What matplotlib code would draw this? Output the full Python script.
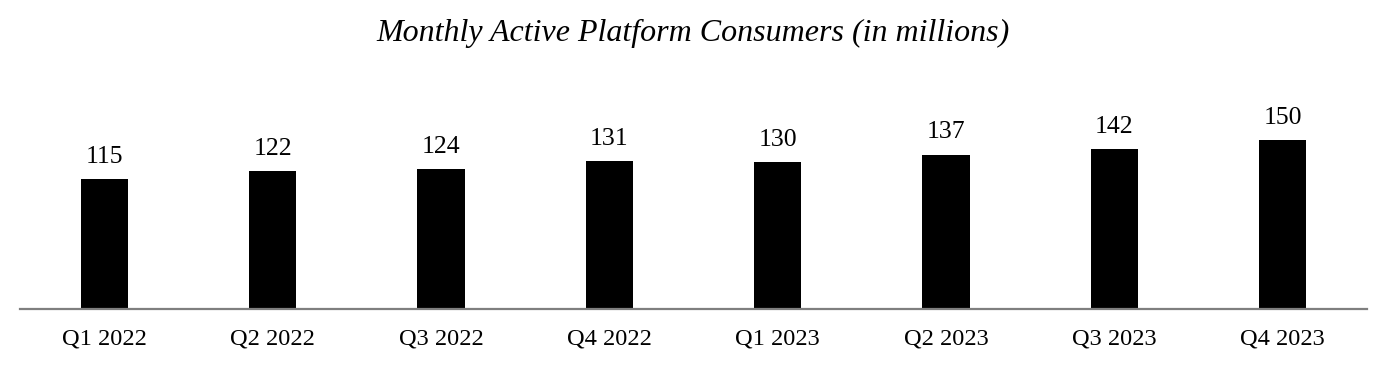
import matplotlib.pyplot as plt

# Data
quarters = ['Q1 2022', 'Q2 2022', 'Q3 2022', 'Q4 2022',
            'Q1 2023', 'Q2 2023', 'Q3 2023', 'Q4 2023']
consumers = [115, 122, 124, 131, 130, 137, 142, 150]

plt.rcParams['font.family'] = ['Liberation Serif', 'DejaVu Serif']

fig = plt.figure(figsize=(13.86, 3.72), dpi=100)
ax = fig.add_axes([20 / 1386, 63 / 372, 1347 / 1386, 209 / 372])

x = range(len(quarters))
bars = ax.bar(x, consumers, width=0.28, color='black')

for rect, v in zip(bars, consumers):
    ax.annotate(str(v), (rect.get_x() + rect.get_width() / 2, v),
                xytext=(0, 8), textcoords='offset points',
                ha='center', va='bottom', fontsize=18.5)

ax.set_xlim(-0.5, len(quarters) - 0.5)
ax.set_ylim(0, 185.4)
ax.set_xticks(list(x))
ax.set_xticklabels(quarters, fontsize=17.6)
ax.tick_params(axis='x', length=0, pad=14)
ax.set_yticks([])

for side in ['top', 'right', 'left']:
    ax.spines[side].set_visible(False)
ax.spines['bottom'].set_color('#7f7f7f')
ax.spines['bottom'].set_linewidth(1.6)

fig.text(0.5, 1 - 33 / 372, 'Monthly Active Platform Consumers (in millions)',
         ha='center', va='center', fontsize=23, style='italic')

fig.savefig('out.png', dpi=100)
